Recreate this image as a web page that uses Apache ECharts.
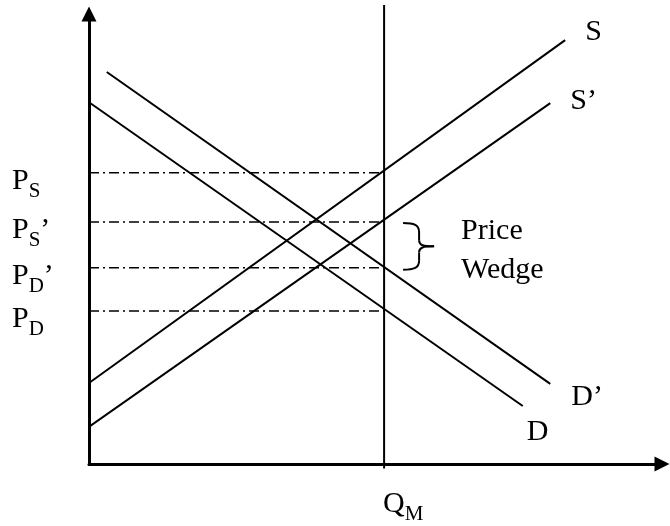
<!DOCTYPE html>
<html>
<head>
<meta charset="utf-8">
<script src="https://cdn.jsdelivr.net/npm/echarts@6/dist/echarts.min.js"></script>
<style>
html, body { margin: 0; padding: 0; background: #fff; }
#main { width: 670px; height: 526px; }
</style>
</head>
<body>
<div id="main"></div>
<script>
// quantity at which the market is held
var qm = 51.5;
// curves, as [quantity, price] end points
var supplyS = [[0, 18.0], [83.1, 94.2]];
var supplyS2 = [[-0.5, 7.8], [80.5, 80.2]];
var demandD = [[0, 80.4], [75.7, 12.9]];
var demandD2 = [[3.1, 87.1], [80.5, 17.8]];
// price levels at qm
var levelNames = ['S', "S'", "D'", 'D'];
var levelValues = [64.7, 53.8, 43.6, 34.0];

var font = 'Liberation Serif, Times New Roman, serif';
var chart = echarts.init(document.getElementById('main'));

function curve(data) {
  return {
    type: 'line', data: data, symbol: 'none', silent: true, clip: false,
    lineStyle: { color: '#000', width: 2 }
  };
}

var series = [curve(supplyS), curve(supplyS2), curve(demandD), curve(demandD2)];
levelValues.forEach(function (v) {
  series.push({
    type: 'line', data: [[0, v], [qm, v]], symbol: 'none', silent: true,
    lineStyle: { color: '#000', width: 1.5, type: [10, 4, 2, 4] }
  });
});
series.push({
  type: 'line', data: [[qm, -1], [qm, 102]], symbol: 'none', silent: true, clip: false,
  lineStyle: { color: '#000', width: 2 }
});

chart.setOption({
  animation: false,
  grid: { left: 89, right: 8, top: 14, bottom: 62 },
  xAxis: {
    type: 'value', min: 0, max: 100,
    axisLine: { lineStyle: { color: '#000', width: 3 }, symbol: ['none', 'triangle'], symbolSize: [15, 15] },
    axisTick: { show: false }, axisLabel: { show: false }, splitLine: { show: false }
  },
  yAxis: {
    type: 'value', min: 0, max: 100,
    axisLine: { lineStyle: { color: '#000', width: 3 }, symbol: ['none', 'triangle'], symbolSize: [15, 15] },
    axisTick: { show: false }, axisLabel: { show: false }, splitLine: { show: false }
  },
  series: series
});

function px(p) { return chart.convertToPixel({ gridIndex: 0 }, p); }

var rich = {
  p: { fontSize: 30, fontFamily: font, fill: '#000', padding: [0, 0, 6, 0] },
  s: { fontSize: 21, fontFamily: font, fill: '#000', verticalAlign: 'bottom' }
};

function label(x, y, text) {
  return {
    type: 'text', x: x, y: y, silent: true,
    style: { text: text, rich: rich, fontSize: 30, fontFamily: font, fill: '#000' }
  };
}

var graphics = [];
levelValues.forEach(function (v, i) {
  var y = px([0, v])[1];
  var name = levelNames[i];
  var text = '{p|P}{s|' + name.charAt(0) + '}' + (name.length > 1 ? '{p|\u2019}' : '');
  graphics.push(label(12, y - 7, text));
});

var sEnd = px(supplyS[1]), s2End = px(supplyS2[1]);
var dEnd = px(demandD[1]), d2End = px(demandD2[1]);
graphics.push(label(sEnd[0] + 20, sEnd[1] - 23, '{p|S}'));
graphics.push(label(s2End[0] + 20, s2End[1] - 17, '{p|S\u2019}'));
graphics.push(label(d2End[0] + 21, d2End[1] - 2, '{p|D\u2019}'));
graphics.push(label(dEnd[0] + 4, dEnd[1] + 11, '{p|D}'));

var qx = px([qm, 0]);
graphics.push(label(qx[0] - 1, qx[1] + 25, '{p|Q}{s|M}'));

var wTop = px([qm, levelValues[1]]);
var wBot = px([qm, levelValues[2]]);
graphics.push({
  type: 'text', x: wTop[0] + 77, y: wTop[1] - 10, silent: true,
  style: { text: 'Price\nWedge', fontSize: 30, lineHeight: 39, fontFamily: font, fill: '#000' }
});

// curly brace between the two inner price levels
var bx = wTop[0] + 19, y0 = wTop[1] + 1, y1 = wBot[1] + 2, ym = (y0 + y1) / 2;
var braceStyle = { stroke: '#000', fill: 'none', lineWidth: 2 };
function bez(a, c1, c2, b) {
  return {
    type: 'bezierCurve', silent: true, style: braceStyle,
    shape: { x1: a[0], y1: a[1], cpx1: c1[0], cpy1: c1[1], cpx2: c2[0], cpy2: c2[1], x2: b[0], y2: b[1] }
  };
}
function seg(a, b) {
  return { type: 'line', silent: true, style: braceStyle, shape: { x1: a[0], y1: a[1], x2: b[0], y2: b[1] } };
}
var vx = bx + 16;
graphics.push(bez([bx, y0], [bx + 11, y0], [vx, y0 + 2], [vx, y0 + 9]));
graphics.push(seg([vx, y0 + 9], [vx, ym - 6]));
graphics.push(bez([vx, ym - 6], [vx, ym - 1], [vx + 4, ym], [vx + 15, ym]));
graphics.push(bez([vx + 15, ym], [vx + 4, ym], [vx, ym + 1], [vx, ym + 6]));
graphics.push(seg([vx, ym + 6], [vx, y1 - 9]));
graphics.push(bez([vx, y1 - 9], [vx, y1 - 2], [bx + 11, y1], [bx, y1]));

chart.setOption({ graphic: graphics });
</script>
</body>
</html>
